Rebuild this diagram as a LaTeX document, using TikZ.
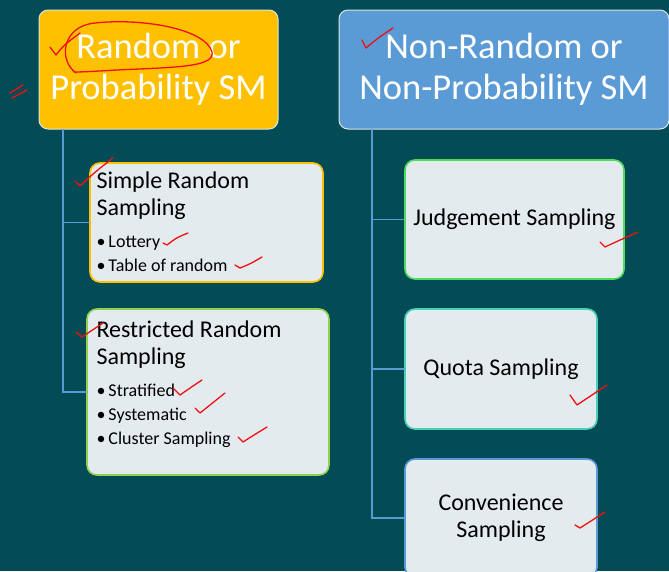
\documentclass[tikz,border=0pt]{standalone}
\usepackage{fontspec}
\setmainfont{Carlito}
\usetikzlibrary{calc}
\definecolor{cbg}{HTML}{034B55}
\definecolor{cgold}{HTML}{FFC000}
\definecolor{cblue}{HTML}{5B9BD5}
\definecolor{cpale}{HTML}{E4EBEE}
\definecolor{clime}{HTML}{92D050}
\definecolor{cgreen}{HTML}{4CDB5E}
\definecolor{cteal}{HTML}{45D1B8}
\definecolor{cline}{HTML}{5B9BD5}
\definecolor{cred}{HTML}{F01010}
\tikzset{
  every picture/.style={line width=1pt},
  headbox/.style={draw=white!85!cbg, fill=#1, rounded corners=9pt, text=white, align=center, minimum width=239pt, minimum height=119pt, anchor=north west, outer sep=0pt, font=\fontsize{36.5}{41}\selectfont},
  subbox/.style={draw=#1, fill=cpale, rounded corners=10pt, line width=1.6pt, anchor=north west, outer sep=0pt, align=center, font=\fontsize{24}{27}\selectfont},
  list/.style={anchor=north west, inner sep=0pt, text width=225pt, font=\fontsize{24}{27}\selectfont},
  link/.style={draw=cline, line width=1.8pt},
  tick/.style={draw=cred, line width=1.3pt, line cap=round, line join=round},
}
\newcommand{\itm}{\makebox[12pt][l]{\textbullet}}
\newcommand{\flushtext}{\raggedright\parindent0pt\spaceskip0pt\xspaceskip0pt\relax}

\begin{document}
\begin{tikzpicture}[x=1pt, y=-1pt]
  \useasboundingbox (0,0) rectangle (669,571);
  \clip (0,0) rectangle (669,571);
  \fill[cbg] (0,0) rectangle (669,571);
  % the two kinds
  \node[headbox=cgold] (rand) at (39,10) {Random or\\Probability SM};
  \node[headbox=cblue, minimum width=330pt] (nonrand) at (339,10) {Non-Random or\\Non-Probability SM};
  % random side
  \node[subbox=cgold, minimum width=233pt, minimum height=119pt] (srs) at (90,163) {};
  \node[subbox=clime, minimum width=242pt, minimum height=166pt] (rrs) at (87,309) {};
  \node[list] (srs-txt) at ($(srs.north west)+(6,8)$) {\flushtext Simple Random\par Sampling\par\vspace{8pt}\fontsize{18}{24}\selectfont\itm Lottery\par\itm Table of random\par};
  \node[list] (rrs-txt) at ($(rrs.north west)+(9,11)$) {\flushtext Restricted Random\par Sampling\par\vspace{8pt}\fontsize{18}{24}\selectfont\itm Stratified\par\itm Systematic\par\itm Cluster Sampling\par};
  % non-random side
  \node[subbox=cgreen, minimum width=219pt, minimum height=119pt] (judg) at (405,160) {Judgement Sampling};
  \node[subbox=cteal, minimum width=192pt, minimum height=120pt] (quota) at (405,309) {Quota Sampling};
  \node[subbox=cblue, minimum width=192pt, minimum height=118pt] (conv) at (405,459) {Convenience\\Sampling};
  % tree lines
  \coordinate (lspine) at ($(rand.south west)+(24,0)$);
  \coordinate (rspine) at ($(nonrand.south west)+(33,0)$);
  \draw[link] (lspine) |- (srs.west);
  \draw[link] (lspine) |- (rrs.west);
  \draw[link] (rspine) |- (judg.west);
  \draw[link] (rspine) |- (quota.west);
  \draw[link] (rspine) |- (conv.west);
  % red pen marks
  \draw[tick] (76,73) .. controls (58,60) and (62,26) .. (95,23) .. controls (140,18) and (205,28) .. (212,52) .. controls (215,66) and (180,67) .. (140,69) .. controls (110,70) and (90,72) .. (74,72);
  \draw[tick] (50,47) -- (56,55) .. controls (64,45) .. (80,33);
  \draw[tick] (10,93) -- (23,85);
  \draw[tick] (12,98) -- (27,90);
  \draw[tick] (362,40) -- (366,48) .. controls (378,38) .. (393,28);
  \draw[tick] (75,181) -- (80,186) .. controls (95,172) .. (113,158);
  \draw[tick] (163,243) -- (167,245) .. controls (176,238) .. (188,233);
  \draw[tick] (235,265) -- (240,268) .. controls (250,264) .. (262,257);
  \draw[tick] (76,332) -- (82,337) .. controls (92,330) .. (103,323);
  \draw[tick] (173,388) -- (180,395) .. controls (190,388) .. (202,380);
  \draw[tick] (195,408) -- (200,413) .. controls (212,403) .. (225,393);
  \draw[tick] (238,437) -- (243,442) .. controls (254,435) .. (267,427);
  \draw[tick] (600,242) -- (605,247) .. controls (620,240) .. (638,232);
  \draw[tick] (570,395) -- (577,405) .. controls (592,395) .. (607,385);
  \draw[tick] (575,525) -- (580,528) .. controls (592,520) .. (605,512);
\end{tikzpicture}
\end{document}
